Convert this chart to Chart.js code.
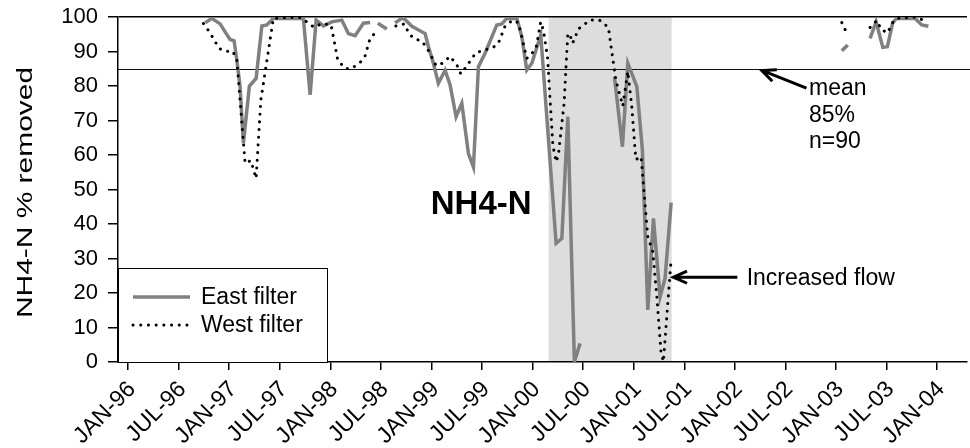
<!DOCTYPE html>
<html>
<head>
<meta charset="utf-8">
<script src="https://cdn.jsdelivr.net/npm/chart.js@4.4.1/dist/chart.umd.min.js"></script>
<style>
  html, body { margin: 0; padding: 0; background: #fff; }
</style>
</head>
<body>
<canvas id="myChart" width="970" height="448"></canvas>
<script>
// x values are months counted from JAN-96 (0 = JAN-96, 6 = JUL-96 ...)
const tickLabels = ["JAN-96", "JUL-96", "JAN-97", "JUL-97", "JAN-98", "JUL-98", "JAN-99", "JUL-99",
    "JAN-00", "JUL-00", "JAN-01", "JUL-01", "JAN-02", "JUL-02", "JAN-03", "JUL-03", "JAN-04"];

const eastMonths = [9.14, 9.93, 10.92, 11.51, 12.1, 12.58, 12.9, 13.29, 13.68, 14.39, 15.19, 15.87, 16.46, 17.24,
    20.8, 21.6, 22.31, 23.18, 24.17, 25.36, 26.14, 26.94, 27.92, 28.72, 29.2, 29.63, 30.7, 31.2,
    31.68, 32.48, 32.87, 33.67, 35.24, 35.64, 36.23, 36.82, 37.62, 38.21, 38.92, 39.6, 40.38, 40.98,
    41.57, 42.36, 43.75, 44.35, 44.94, 46.13, 46.72, 47.31, 47.91, 48.97, 50.79, 51.47, 52.18, 52.96,
    53.64, 55.5, 57.71, 58.66, 59.3, 60.37, 61.03, 61.67, 62.34, 63.13, 63.72, 64.44, 75,
    84.69, 85.4, 86.5, 88.05, 88.76, 89.56, 90.1, 90.74, 91.22, 93.39, 94.18, 94.97];
const eastValues = [98.3, 99.6, 98, 95.7, 93.5, 93.1, 87.5, 79.8, 63.4, 80, 82.2, 97.4, 97.7, 99.6,
    99.6, 77.4, 99.1, 97.4, 98.6, 99.1, 95.2, 94.6, 98.2, 98.4, null, 98.2, 96.5, null,
    98.3, 99.6, 99.3, 97.3, 95.2, 91.4, 86.6, 80.8, 84.6, 80.3, 71.1, 75, 60.5, 56.5,
    85.6, 89.5, 97.7, 98, 99.6, 99.6, 94.3, 84.6, 86.6, 94.8, 34.4, 35.8, 71.1, 0.1,
    5.4, null, 82.7, 62.4, 86.6, 79.8, 61.4, 15.1, 41.6, 18.9, 24.3, 46.2, null,
    90.2, 91.9, null, 93.8, 98.6, 91.2, 91.4, 98.4, 99.6, 99.6, 97.7, 97.3];

const westMonths = [8.94, 9.65, 10.8, 11.51, 12.42, 12.9, 13.88, 14.56, 15.19, 15.75, 17.24,
    20.29, 21.21, 22.07, 22.99, 24.09, 24.88, 25.75, 26.55, 27.53, 28.12, 28.72, 29.7, 30.7,
    31.77, 32.79, 33.27, 33.86, 34.85, 35.51, 36.55, 37.3, 38.21, 39.01, 39.48, 40.07, 41.26,
    42.25, 43.28, 43.94, 44.74, 45.65, 46.32, 47.31, 47.78, 48.42, 48.97, 49.28, 49.76, 50.4,
    50.79, 51.06, 51.74, 52.18, 52.45, 52.72, 53.04, 53.36, 54.82, 55.93, 56.99, 57.87, 58.7,
    59.3, 59.77, 60.25, 60.87, 61.67, 62.26, 62.74, 63.23, 63.52, 64.39, 75,
    84.69, 85.16, 86.5, 88.05, 88.85, 89.36, 90.15, 90.63, 91.29, 93.39, 94.49];
const westValues = [98.1, 95.7, 90.9, 90.1, 90.1, 87.5, 57.6, 58.4, 53.2, 75.9, 99.6,
    100, 98.6, 97, 98.1, 97.7, 87.5, 85.1, 85.1, 86.8, 88.7, 93.8, 96.4, null,
    97.4, 98, 95.5, 93.8, 93, 90.9, 85.9, 86.6, 88.6, 86.1, 83.5, 85.4, 89.6,
    90.4, 91.1, 92.4, 97.4, 99.1, 98.3, 88, 89, 91.1, 98.6, 96.2, 88.6, 62.9,
    58, 60, 75, 95.2, 94.7, 92.4, 93.8, 96.4, 99.1, 99.1, 97, 81.8, 74.2,
    84.2, 74, 58.7, 59.5, 36.3, 32, 18.9, 3, 0.1, 28.1, null,
    98.4, 96, null, 97, 99, 96.4, 95.4, 98.1, 99.6, 100, 99];

const meanValue = 85;
const shadeStart = 49.9;   // increased flow period
const shadeEnd = 64.5;

const FONT = "'Liberation Sans', Arial, sans-serif";

function toPoints(months, values) {
    return months.map((m, i) => ({ x: m, y: values[i] }));
}

function drawArrow(ctx, x0, y0, x1, y1) {
    const ang = Math.atan2(y1 - y0, x1 - x0);
    const head = 15;
    ctx.beginPath();
    ctx.moveTo(x0, y0);
    ctx.lineTo(x1, y1);
    ctx.moveTo(x1 - head * Math.cos(ang - 0.42), y1 - head * Math.sin(ang - 0.42));
    ctx.lineTo(x1, y1);
    ctx.lineTo(x1 - head * Math.cos(ang + 0.42), y1 - head * Math.sin(ang + 0.42));
    ctx.stroke();
}

const shadePlugin = {
    id: "shade",
    beforeDraw(chart) {
        const { ctx, chartArea, scales: { x } } = chart;
        const x0 = x.getPixelForValue(shadeStart);
        const x1 = x.getPixelForValue(shadeEnd);
        ctx.save();
        ctx.fillStyle = "#dddddd";
        ctx.fillRect(x0, chartArea.top, x1 - x0, chartArea.bottom - chartArea.top);
        ctx.restore();
    },
    beforeDatasetsDraw(chart) {
        const { ctx, chartArea, scales: { y } } = chart;
        const yp = Math.round(y.getPixelForValue(meanValue)) + 0.5;
        ctx.save();
        ctx.strokeStyle = "#111";
        ctx.lineWidth = 1;
        ctx.beginPath();
        ctx.moveTo(chartArea.left, yp);
        ctx.lineTo(chart.width, yp);
        ctx.stroke();
        ctx.restore();
    }
};

const notesPlugin = {
    id: "notes",
    afterDatasetsDraw(chart) {
        const { ctx, chartArea, scales: { x, y } } = chart;
        ctx.save();
        ctx.fillStyle = "#000";
        ctx.strokeStyle = "#000";

        // axis title, a bit stretched along its length like the original
        ctx.save();
        ctx.translate(26, (chartArea.top + chartArea.bottom) / 2 + 3);
        ctx.rotate(-Math.PI / 2);
        ctx.scale(1.36, 1);
        ctx.font = "22px " + FONT;
        ctx.textAlign = "center";
        ctx.textBaseline = "middle";
        ctx.fillText("NH4-N % removed", 0, 0);
        ctx.restore();

        // big label
        ctx.font = "bold 33px " + FONT;
        ctx.textAlign = "center";
        ctx.textBaseline = "alphabetic";
        ctx.fillText("NH4-N", x.getPixelForValue(41.9), y.getPixelForValue(42.9));

        // mean note
        ctx.font = "23px " + FONT;
        ctx.textAlign = "left";
        const tx = x.getPixelForValue(80.8);
        ctx.fillText("mean", tx, y.getPixelForValue(77.4));
        ctx.fillText("85%", tx, y.getPixelForValue(69.7));
        ctx.fillText("n=90", tx, y.getPixelForValue(62));
        ctx.lineWidth = 3;
        drawArrow(ctx, x.getPixelForValue(80.5), y.getPixelForValue(79.4),
            x.getPixelForValue(75.2), y.getPixelForValue(84.5));

        // increased flow note
        ctx.fillText("Increased flow", x.getPixelForValue(73.4), y.getPixelForValue(22.3));
        drawArrow(ctx, x.getPixelForValue(72.3), y.getPixelForValue(24.6),
            x.getPixelForValue(64.7), y.getPixelForValue(24.6));

        // legend box
        const bx = chartArea.left, by = chartArea.bottom - 94, bw = 209, bh = 94;
        ctx.fillStyle = "#fff";
        ctx.fillRect(bx, by, bw, bh);
        ctx.lineWidth = 1;
        ctx.strokeRect(bx + 0.5, by + 0.5, bw, bh);
        const ds = chart.data.datasets;
        const rows = [ds[1], ds[0]];
        rows.forEach((d, i) => {
            const ly = by + 29 + i * 28;
            ctx.save();
            ctx.strokeStyle = d.borderColor;
            ctx.lineWidth = d.borderWidth;
            ctx.lineCap = d.borderCapStyle || "butt";
            ctx.setLineDash(d.borderDash || []);
            ctx.beginPath();
            ctx.moveTo(bx + 15, ly);
            ctx.lineTo(bx + 72, ly);
            ctx.stroke();
            ctx.restore();
            ctx.fillStyle = "#000";
            ctx.font = "23px " + FONT;
            ctx.textAlign = "left";
            ctx.textBaseline = "middle";
            ctx.fillText(d.label, bx + 83, ly + 1);
        });
        ctx.restore();
    }
};

const config = {
    type: "line",
    data: {
        datasets: [
            {
                label: "West filter",
                data: toPoints(westMonths, westValues),
                borderColor: "#000",
                borderWidth: 3,
                borderDash: [0.1, 7.6],
                borderCapStyle: "round",
                pointRadius: 0,
                tension: 0,
                spanGaps: false,
                order: 0
            },
            {
                label: "East filter",
                data: toPoints(eastMonths, eastValues),
                borderColor: "#808080",
                borderWidth: 3.5,
                pointRadius: 0,
                tension: 0,
                spanGaps: false,
                order: 1
            }
        ]
    },
    options: {
        responsive: false,
        animation: false,
        layout: { padding: { top: 17, right: 3, left: 0, bottom: 0 } },
        plugins: {
            legend: { display: false },
            tooltip: { enabled: false }
        },
        scales: {
            x: {
                type: "linear",
                min: -1.2,
                max: 99.55,
                afterFit: (s) => {
                    s.height = 86;
                    s.paddingLeft = 0;
                    s.paddingRight = 0;
                },
                afterBuildTicks: (s) => { s.ticks = tickLabels.map((_, i) => ({ value: i * 6 })); },
                border: { color: "#000", width: 1.5 },
                grid: { drawOnChartArea: false, tickLength: 8, color: "#000", lineWidth: 1.5 },
                ticks: {
                    autoSkip: false,
                    minRotation: 45,
                    maxRotation: 45,
                    padding: 6,
                    labelOffset: 4,
                    color: "#000",
                    font: { family: FONT, size: 23 },
                    callback: (v) => tickLabels[Math.round(v / 6)]
                }
            },
            y: {
                min: 0,
                max: 100,
                afterFit: (s) => {
                    s.width = 118;
                    s.paddingTop = 0;
                    s.paddingBottom = 0;
                },
                border: { color: "#000", width: 1.5 },
                grid: {
                    color: (c) => (c.tick && c.tick.value === 100 ? "#000" : "rgba(0,0,0,0)"),
                    tickColor: "#000",
                    tickLength: 10,
                    lineWidth: 1.5
                },
                ticks: {
                    stepSize: 10,
                    padding: 10,
                    color: "#000",
                    font: { family: FONT, size: 22 }
                }
            }
        }
    },
    plugins: [shadePlugin, notesPlugin]
};

new Chart(document.getElementById("myChart"), config);
</script>
</body>
</html>
